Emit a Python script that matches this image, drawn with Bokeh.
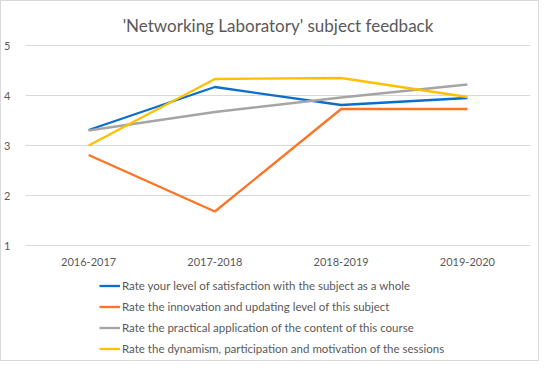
from bokeh.plotting import figure
from bokeh.models import Range1d, FactorRange, Legend, LegendItem, Title, FixedTicker, ColumnDataSource
from bokeh.core.properties import value
from bokeh.embed import file_html
from bokeh.resources import INLINE

years = ["2016-2017", "2017-2018", "2018-2019", "2019-2020"]
satisfaction = [3.31, 4.17, 3.81, 3.95]
innovation = [2.81, 1.68, 3.73, 3.73]
practical = [3.30, 3.67, 3.96, 4.22]
dynamism = [3.00, 4.33, 4.35, 3.97]
labels = [
    "Rate your level of satisfaction with the subject as a whole",
    "Rate the innovation and updating level of this subject",
    "Rate the practical application of the content of this course",
    "Rate the dynamism, participation and motivation of the sessions",
]
y_ticks = [1, 2, 3, 4, 5]
colors = ["#0A6FCC", "#FF7324", "#A5A5A5", "#FFC000"]
title_text = "'Networking Laboratory' subject feedback"
FONT = "Lato"
TXT = "#595959"

p = figure(width=539, height=361, x_range=FactorRange(*years, range_padding=0),
           y_range=Range1d(-1.30, 5.02), output_backend="svg", toolbar_location=None,
           min_border_left=23, min_border_right=10, min_border_top=43, min_border_bottom=2)
p.title = Title(text=title_text, align="center", text_font=FONT, text_font_size="17px",
                text_font_style="normal", text_color=TXT, offset=0, standoff=18)
p.outline_line_color = None
p.background_fill_color = "white"
p.border_fill_color = "white"
p.styles = {"border": "1px solid #D9D9D9"}

p.xgrid.grid_line_color = None
p.ygrid.grid_line_color = "#D9D9D9"
p.ygrid.grid_line_width = 1
p.yaxis.ticker = FixedTicker(ticks=y_ticks)
p.xaxis.visible = False

yax = p.yaxis[0]
yax.axis_line_color = None
yax.major_tick_line_color = None
yax.minor_tick_line_color = None
yax.major_label_text_font = FONT
yax.major_label_text_font_size = "11px"
yax.major_label_text_color = TXT
yax.major_label_standoff = 9

# category labels (x axis) drawn at the category positions
src = ColumnDataSource(dict(x=years, y=[0.68] * len(years), t=years))
p.text(x="x", y="y", text="t", source=src, text_align="center", text_baseline="middle",
       text_font=value(FONT), text_font_size=value("11px"), text_color=TXT)

series = [satisfaction, innovation, practical, dynamism]
items = []
for vals, c, lab in zip(series, colors, labels):
    r = p.line(years, vals, line_color=c, line_width=2.3)
    items.append(LegendItem(label=lab, renderers=[r]))

leg = Legend(items=items, location=(74, 1), orientation="vertical",
             glyph_width=21, glyph_height=21, label_height=21, spacing=0,
             label_standoff=2, padding=0, margin=0, border_line_color=None,
             background_fill_alpha=0, label_text_font=FONT, label_text_font_size="11.5px",
             label_text_color=TXT)
p.add_layout(leg, "center")

open("out.html", "w").write(file_html(p, INLINE))
